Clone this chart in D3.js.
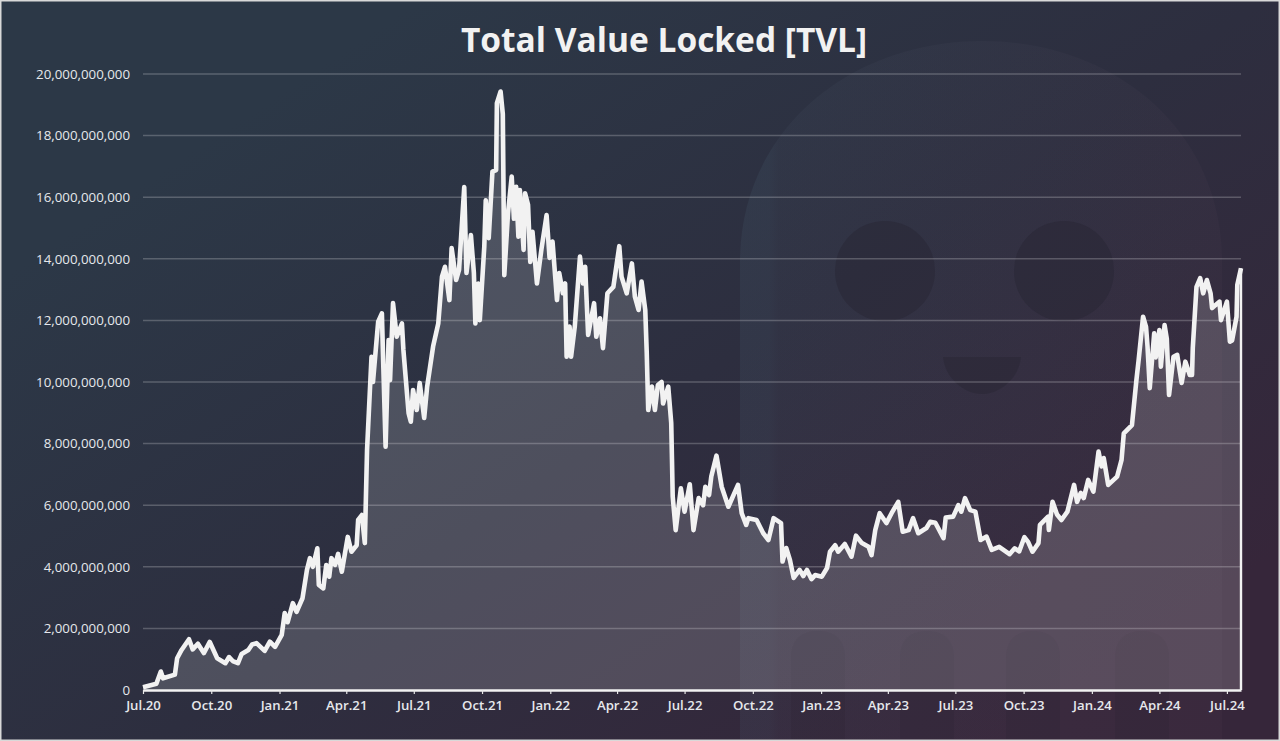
<!DOCTYPE html>
<html>
<head>
<meta charset="utf-8">
<script src="https://cdn.jsdelivr.net/npm/d3@7"></script>
<style>
  html, body { margin: 0; padding: 0; background: #2d2f40; overflow: hidden; }
  text { font-family: 'Open Sans', sans-serif; }
</style>
</head>
<body>
<svg id="chart"></svg>
<script>
const titleText = 'Total Value Locked [TVL]'

// days since 1 Jul 2020
const tvlDays = [0, 18, 24, 27, 43, 46, 52, 62, 67, 74, 82, 90, 100, 111, 116, 121, 128, 133, 142, 147, 153, 164, 171, 178, 187, 191, 195, 202, 207, 215, 221, 225, 229, 235, 237, 243, 247, 251, 254, 259, 263, 268, 276, 281, 288, 290, 295, 299, 302, 308, 310, 317, 322, 324, 327, 331, 333, 337, 342, 349, 351, 358, 361, 364, 369, 373, 379, 383, 391, 398, 403, 407, 413, 416, 422, 426, 433, 436, 442, 446, 448, 452, 454, 460, 462, 466, 471, 476, 477, 482, 485, 487, 492, 497, 500, 503, 506, 508, 513, 515, 519, 522, 525, 531, 537, 544, 548, 552, 558, 561, 566, 569, 571, 575, 577, 582, 589, 593, 596, 600, 608, 611, 616, 620, 626, 634, 642, 645, 652, 659, 663, 668, 672, 677, 679, 681, 686, 690, 694, 699, 701, 708, 712, 713, 714, 718, 725, 730, 737, 742, 749, 755, 758, 763, 766, 773, 780, 789, 802, 807, 813, 816, 827, 836, 843, 850, 860, 862, 867, 872, 877, 885, 890, 895, 901, 906, 915, 922, 926, 933, 937, 946, 955, 961, 969, 978, 982, 987, 993, 1002, 1009, 1018, 1024, 1032, 1038, 1045, 1056, 1061, 1068, 1079, 1082, 1092, 1099, 1103, 1108, 1115, 1122, 1129, 1137, 1144, 1154, 1168, 1175, 1181, 1188, 1193, 1199, 1207, 1209, 1220, 1221, 1226, 1232, 1238, 1246, 1255, 1259, 1264, 1268, 1274, 1281, 1283, 1288, 1292, 1295, 1301, 1313, 1319, 1322, 1333, 1339, 1342, 1348, 1352, 1354, 1357, 1363, 1365, 1370, 1372, 1377, 1380, 1383, 1389, 1394, 1400, 1405, 1411, 1414, 1415, 1420, 1425, 1429, 1434, 1439, 1441, 1451, 1453, 1461, 1465, 1468, 1474, 1475, 1480]

// TVL in billions, same order as tvlDays
const tvlBillions = [0.09, 0.2, 0.6, 0.38, 0.5, 1.03, 1.3, 1.65, 1.32, 1.5, 1.2, 1.56, 1.03, 0.87, 1.07, 0.94, 0.87, 1.17, 1.3, 1.48, 1.52, 1.27, 1.57, 1.4, 1.79, 2.5, 2.2, 2.82, 2.54, 2.98, 3.9, 4.28, 4.0, 4.6, 3.41, 3.3, 4.06, 3.68, 4.28, 4.06, 4.42, 3.84, 4.97, 4.49, 4.7, 5.52, 5.68, 4.77, 7.8, 10.82, 10.0, 11.96, 12.23, 10.45, 7.9, 11.36, 10.06, 12.56, 11.47, 11.9, 11.04, 8.99, 8.71, 9.74, 9.09, 9.97, 8.83, 9.85, 11.15, 11.9, 13.42, 13.74, 12.66, 14.35, 13.31, 13.64, 16.33, 13.54, 14.77, 13.54, 11.9, 13.2, 12.01, 14.39, 15.9, 14.67, 16.83, 16.88, 19.05, 19.43, 18.7, 13.47, 15.48, 16.67, 15.3, 16.34, 14.72, 16.23, 14.29, 16.13, 15.75, 13.9, 14.88, 13.2, 14.3, 15.42, 14.03, 14.56, 12.66, 13.54, 12.88, 13.2, 10.82, 11.8, 10.82, 11.8, 14.07, 13.2, 13.74, 11.53, 12.56, 11.47, 12.07, 11.1, 12.88, 13.09, 14.41, 13.42, 12.88, 13.85, 12.77, 12.34, 13.26, 12.34, 10.94, 9.09, 9.85, 9.09, 9.9, 10.0, 9.3, 9.85, 8.67, 7.5, 6.28, 5.19, 6.55, 5.79, 6.68, 5.19, 6.23, 6.0, 6.6, 6.33, 6.93, 7.61, 6.6, 5.95, 6.66, 5.74, 5.36, 5.58, 5.52, 5.09, 4.87, 5.58, 5.42, 4.17, 4.61, 4.22, 3.64, 3.9, 3.7, 3.9, 3.6, 3.73, 3.68, 3.96, 4.49, 4.7, 4.49, 4.74, 4.33, 5.01, 4.77, 4.65, 4.38, 5.19, 5.74, 5.42, 5.74, 6.11, 5.14, 5.19, 5.58, 5.09, 5.26, 5.46, 5.43, 4.93, 5.6, 5.63, 6.0, 5.79, 6.23, 5.84, 5.79, 4.87, 4.98, 4.55, 4.65, 4.41, 4.6, 4.5, 4.96, 4.81, 4.49, 4.77, 5.36, 5.63, 5.2, 6.11, 5.7, 5.52, 5.79, 6.66, 6.11, 6.4, 6.23, 6.82, 6.44, 6.8, 7.74, 7.26, 7.53, 6.66, 6.93, 7.47, 8.33, 8.6, 10.06, 10.71, 12.12, 11.79, 11.15, 9.8, 11.58, 10.8, 11.69, 10.5, 11.85, 11.4, 9.58, 10.82, 10.88, 9.97, 10.66, 10.23, 10.23, 11.1, 13.09, 13.37, 12.88, 13.31, 12.88, 12.4, 12.61, 12.01, 12.61, 11.31, 11.35, 12.12, 13.15, 13.69]

const yTicks = [0, 2e9, 4e9, 6e9, 8e9, 10e9, 12e9, 14e9, 16e9, 18e9, 20e9]
const xTickDates = ['2020-07-01', '2020-10-01', '2021-01-01', '2021-04-01', '2021-07-01', '2021-10-01', '2022-01-01', '2022-04-01', '2022-07-01', '2022-10-01', '2023-01-01', '2023-04-01', '2023-07-01', '2023-10-01', '2024-01-01', '2024-04-01', '2024-07-01']
const xTickLabels = ['Jul.20', 'Oct.20', 'Jan.21', 'Apr.21', 'Jul.21', 'Oct.21', 'Jan.22', 'Apr.22', 'Jul.22', 'Oct.22', 'Jan.23', 'Apr.23', 'Jul.23', 'Oct.23', 'Jan.24', 'Apr.24', 'Jul.24']

const width = 1280
const height = 741
const margin = { top: 74, right: 39, bottom: 51, left: 143 }

const startDate = new Date(2020, 6, 1)
const toDate = days => new Date(2020, 6, 1 + days)
const parseDate = d3.timeParse('%Y-%m-%d')

const svg = d3.select('#chart')
  .attr('width', width)
  .attr('height', height)

const defs = svg.append('defs')

const bgGrad = defs.append('linearGradient')
  .attr('id', 'bg')
  .attr('gradientUnits', 'userSpaceOnUse')
  .attr('x1', 420).attr('y1', 0)
  .attr('x2', 940).attr('y2', 780)
bgGrad.append('stop').attr('offset', '0%').attr('stop-color', '#2c3847')
bgGrad.append('stop').attr('offset', '50%').attr('stop-color', '#2d2e3f')
bgGrad.append('stop').attr('offset', '100%').attr('stop-color', '#36263a')

const ghostGrad = defs.append('linearGradient')
  .attr('id', 'ghost')
  .attr('x1', 0).attr('y1', 0)
  .attr('x2', 1).attr('y2', 0)
ghostGrad.append('stop').attr('offset', '0%').attr('stop-color', '#6fa0b5').attr('stop-opacity', 0.08)
ghostGrad.append('stop').attr('offset', '6%').attr('stop-color', '#6fa0b5').attr('stop-opacity', 0.08)
ghostGrad.append('stop').attr('offset', '8%').attr('stop-color', '#7f9ab0').attr('stop-opacity', 0.05)
ghostGrad.append('stop').attr('offset', '100%').attr('stop-color', '#9a7488').attr('stop-opacity', 0.04)

svg.append('rect')
  .attr('width', width)
  .attr('height', height)
  .attr('fill', 'url(#bg)')
  .attr('stroke', '#d9d9d9')
  .attr('stroke-width', 3)

// the faint ghost behind the plot
const ghost = svg.append('g')
ghost.append('path')
  .attr('d', 'M740,739 L740,262 C740,130 850,41 982,41 C1115,41 1222,130 1222,262 L1222,739 Z')
  .attr('fill', 'url(#ghost)')
ghost.selectAll('ellipse.eye')
  .data([885, 1064])
  .enter().append('ellipse')
  .attr('class', 'eye')
  .attr('cx', d => d)
  .attr('cy', 271)
  .attr('rx', 50)
  .attr('ry', 50)
  .attr('fill', '#272633')
  .attr('opacity', 0.5)
ghost.append('path')
  .attr('d', 'M943,357 L1021,357 C1019,378 1000,394 982,394 C964,394 945,378 943,357 Z')
  .attr('fill', '#272633')
  .attr('opacity', 0.45)
ghost.selectAll('path.lobe')
  .data([791, 900, 1006, 1115])
  .enter().append('path')
  .attr('class', 'lobe')
  .attr('d', d => `M${d},739 L${d},658 C${d},640 ${d + 10},631 ${d + 27},631 C${d + 44},631 ${d + 54},640 ${d + 54},658 L${d + 54},739 Z`)
  .attr('fill', '#2d2536')
  .attr('opacity', 0.3)

const x = d3.scaleTime()
  .domain([startDate, toDate(1480)])
  .range([margin.left, width - margin.right])

const y = d3.scaleLinear()
  .domain([0, 20e9])
  .range([height - margin.bottom, margin.top])

// grid
svg.append('g')
  .selectAll('line')
  .data(yTicks.slice(1))
  .enter().append('line')
  .attr('x1', margin.left)
  .attr('x2', width - margin.right)
  .attr('y1', d => y(d))
  .attr('y2', d => y(d))
  .attr('stroke', '#ffffff')
  .attr('stroke-opacity', 0.22)
  .attr('stroke-width', 1.5)

const area = d3.area()
  .x((d, i) => x(toDate(d)))
  .y0(y(0))
  .y1((d, i) => y(tvlBillions[i] * 1e9))

const line = d3.line()
  .x((d, i) => x(toDate(d)))
  .y((d, i) => y(tvlBillions[i] * 1e9))
  .curve(d3.curveLinear)

svg.append('path')
  .attr('d', area(tvlDays))
  .attr('fill', '#ffffff')
  .attr('fill-opacity', 0.16)

svg.append('path')
  .attr('d', line(tvlDays))
  .attr('fill', 'none')
  .attr('stroke', '#f2f2f2')
  .attr('stroke-width', 4.6)
  .attr('stroke-linejoin', 'round')

// right edge of the area carries the same outline
svg.append('line')
  .attr('x1', x(toDate(1480)))
  .attr('x2', x(toDate(1480)))
  .attr('y1', y(tvlBillions[tvlBillions.length - 1] * 1e9))
  .attr('y2', y(0))
  .attr('stroke', '#f2f2f2')
  .attr('stroke-width', 2.4)

// axes
const xAxis = d3.axisBottom(x)
  .tickValues(xTickDates.map(parseDate))
  .tickFormat((d, i) => xTickLabels[i])
  .tickSize(4)
  .tickSizeOuter(0)

const xG = svg.append('g')
  .attr('transform', `translate(0,${y(0)})`)
  .call(xAxis)
xG.select('.domain').attr('stroke', '#f2f2f2').attr('stroke-width', 2.6)
xG.selectAll('.tick line').attr('stroke', '#e8e8e8').attr('stroke-width', 1.2)
xG.selectAll('.tick text')
  .attr('y', 11)
  .attr('fill', '#e6e8ec')
  .style('font-size', '13.2px')
  .style('font-family', "'Open Sans', sans-serif")
  .style('font-weight', 600)

const yAxis = d3.axisLeft(y)
  .tickValues(yTicks)
  .tickFormat(d3.format(','))
  .tickSize(0)
  .tickPadding(13)

const yG = svg.append('g')
  .attr('transform', `translate(${margin.left},0)`)
  .call(yAxis)
yG.select('.domain').remove()
yG.selectAll('.tick text')
  .attr('fill', '#e6e8ec')
  .style('font-size', '13.3px')
  .style('font-family', "'Open Sans', sans-serif")

svg.append('text')
  .attr('x', 664)
  .attr('y', 52)
  .attr('text-anchor', 'middle')
  .attr('fill', '#f2f2f2')
  .style('font-size', '33.5px')
  .style('font-weight', 700)
  .text(titleText)
</script>
</body>
</html>
